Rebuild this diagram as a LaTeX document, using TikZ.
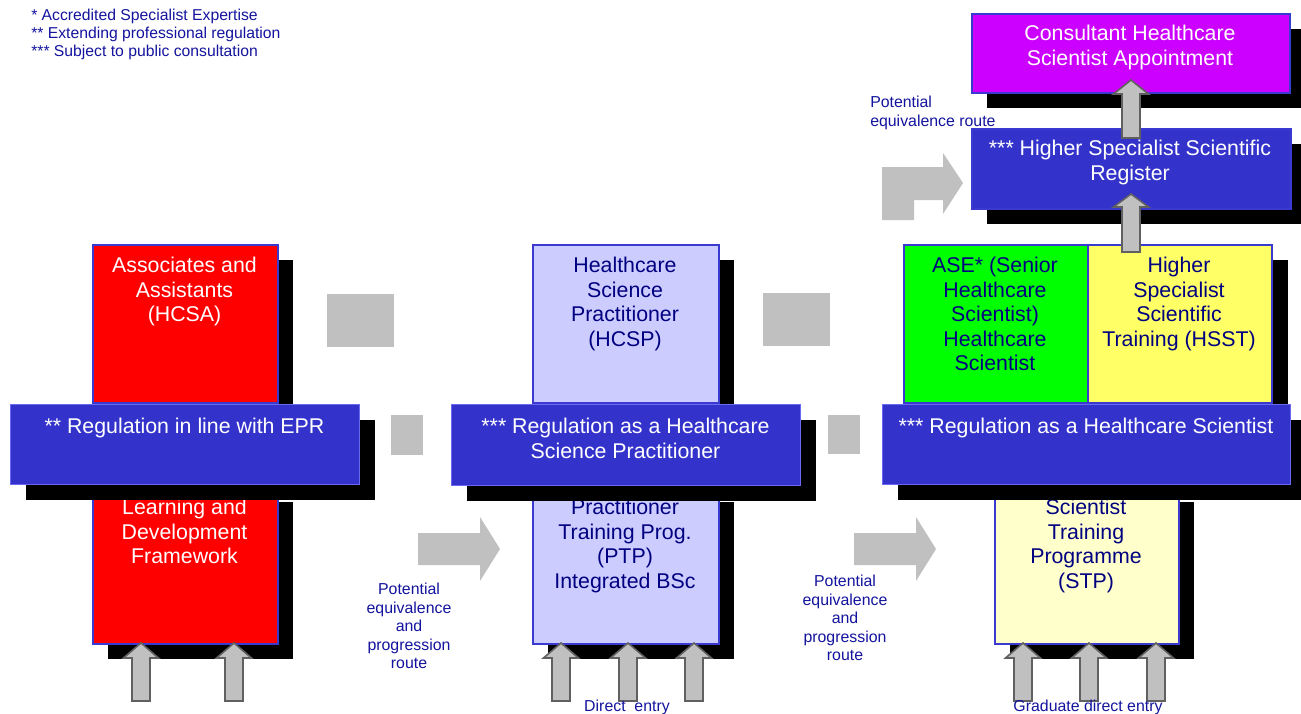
\documentclass[tikz,border=0pt]{standalone}
\usepackage{fontspec}
\setmainfont{Liberation Sans}
\definecolor{bandblue}{HTML}{3333CC}
\definecolor{edgeblue}{HTML}{3A3AD0}
\definecolor{bandedge}{HTML}{6A6AF0}
\definecolor{lav}{HTML}{CCCCFF}
\definecolor{navy}{HTML}{000080}
\definecolor{labblue}{HTML}{14149E}
\definecolor{blockgray}{HTML}{C0C0C0}
\definecolor{arrowedge}{HTML}{606060}
\definecolor{purp}{HTML}{CC00FF}
\definecolor{grn}{HTML}{00FF00}
\definecolor{yel}{HTML}{FFFF66}
\definecolor{paley}{HTML}{FFFFCC}
% name, style, x1, y1, x2, y2  (pixel coordinates, y downwards)
\newcommand\shbox[6]{%
  \fill[black] ({#3+16},{#4+16}) rectangle ({#5+16},{#6+16});
  \node[#2, anchor=north west, minimum width={(#5-#3)*0.75pt}, minimum height={(#6-#4)*0.75pt}] (#1) at (#3,#4) {};
}
\newcommand\plainbox[6]{%
  \node[#2, anchor=north west, minimum width={(#5-#3)*0.75pt}, minimum height={(#6-#4)*0.75pt}] (#1) at (#3,#4) {};
}
% center x, tip y, head base y, bottom y
\newcommand\uparrw[4]{%
  \draw[uparr] ({#1-9},#4) -- ({#1-9},#3) -- ({#1-17.5},#3) -- (#1,#2) -- ({#1+17.5},#3) -- ({#1+9},#3) -- ({#1+9},#4) -- cycle;
}
\begin{document}
\begin{tikzpicture}[x=0.75pt,y=-0.75pt,
  box/.style={draw=edgeblue, line width=1.5pt, inner sep=0pt},
  band/.style={draw=bandedge, line width=0.75pt, fill=bandblue, inner sep=0pt},
  btext/.style={font=\fontsize{16}{18.4}\selectfont, align=center, anchor=base, inner sep=0pt},
  lab/.style={font=\fontsize{11.9}{13.9}\selectfont, text=labblue, align=center, anchor=base, inner sep=0pt},
  legend/.style={font=\fontsize{11.8}{13.5}\selectfont, text=labblue, anchor=base west, inner sep=0pt},
  uparr/.style={fill=blockgray, draw=arrowedge, line width=1.2pt, line join=miter},
  blk/.style={fill=blockgray}]
\useasboundingbox (0,0) rectangle (1301,713);
\fill[white] (0,0) rectangle (1301,713);

% legend
\node[legend] (leg1) at (31,20.6) {* Accredited Specialist Expertise};
\node[legend] (leg2) at (31,38.6) {** Extending professional regulation};
\node[legend] (leg3) at (31,56.6) {*** Subject to public consultation};

% ---------- left column ----------
\shbox{hcsa}{box, fill=red}{92}{244}{277}{402}
\node[btext, text=white] (hcsaT) at (184.5,321.7) {Associates and\\Assistants\\(HCSA)};
\shbox{ldf}{box, fill=red}{92}{486}{277}{643}
\node[btext, text=white] (ldfT) at (184.5,563.7) {Learning and\\Development\\Framework};
\shbox{bandA}{band}{10}{404}{359}{484}
\node[btext, text=white] (bandAT) at (184.5,433.6) {** Regulation in line with EPR};

% connectors left -> middle
\fill[blk] (327,294) rectangle (394,347);
\fill[blk] (391,415) rectangle (423,455);
\fill[blk] (418,533) -- (480,533) -- (480,517) -- (500,549) -- (480,581) -- (480,565) -- (418,565) -- cycle;
\node[lab] (labA) at (409,668.7) {Potential\\equivalence\\and\\progression\\route};

% ---------- middle column ----------
\shbox{hcsp}{box, fill=lav}{532}{244}{718}{402}
\node[btext, text=navy] (hcspT) at (625,346.2) {Healthcare\\Science\\Practitioner\\(HCSP)};
\shbox{ptp}{box, fill=lav}{532}{486}{718}{643}
\node[btext, text=navy] (ptpT) at (625,588.2) {Practitioner\\Training Prog.\\(PTP)\\Integrated BSc};
\shbox{bandB}{band}{451}{404}{800}{485}
\node[btext, text=white] (bandBT) at (625.5,458.1) {*** Regulation as a Healthcare\\Science Practitioner};

% connectors middle -> right
\fill[blk] (763,293) rectangle (830,346);
\fill[blk] (828,415) rectangle (860,454);
\fill[blk] (854,533) -- (916,533) -- (916,517) -- (936,549) -- (916,581) -- (916,565) -- (854,565) -- cycle;
\node[lab] (labB) at (845,660.7) {Potential\\equivalence\\and\\progression\\route};

% ---------- right column ----------
\shbox{cons}{box, fill=purp}{971}{13}{1289}{92}
\node[btext, text=white] (consT) at (1130,65.1) {Consultant Healthcare\\Scientist Appointment};
\shbox{reg}{box, fill=bandblue}{971}{128}{1290}{208}
\node[btext, text=white] (regT) at (1130,180.1) {*** Higher Specialist Scientific\\Register};

\fill[black] (919,260) rectangle (1288,418);
\plainbox{ase}{box, fill=grn}{903}{244}{1087}{402}
\plainbox{hsst}{box, fill=yel}{1087}{244}{1271}{402}
\node[btext, text=navy] (aseT) at (995,370.7) {ASE* (Senior\\Healthcare\\Scientist)\\Healthcare\\Scientist};
\node[btext, text=navy] (hsstT) at (1179,346.2) {Higher\\Specialist\\Scientific\\Training (HSST)};

\shbox{stp}{box, fill=paley}{994}{486}{1178}{643}
\node[btext, text=navy] (stpT) at (1086,588.2) {Scientist\\Training\\Programme\\(STP)};
\shbox{bandC}{band}{882}{404}{1290}{484}
\node[btext, text=white] (bandCT) at (1086,433.6) {*** Regulation as a Healthcare Scientist};

% vertical arrows in right column
\uparrw{1131}{80}{94}{138}
\uparrw{1131}{194}{207}{252}

% bent equivalence arrow into the register
\fill[blk] (882,167) -- (943,167) -- (943,153) -- (963,183) -- (943,214) -- (943,200) -- (914,200) -- (914,220) -- (882,220) -- cycle;
\node[lab, align=left, anchor=base west] (labC) at (870,126.1) {Potential\\equivalence route};

% entry arrows at the bottom
\uparrw{141}{643}{658}{701}
\uparrw{234}{643}{658}{701}
\uparrw{561}{643}{658}{701}
\uparrw{628}{643}{658}{701}
\uparrw{694}{643}{658}{701}
\uparrw{1023}{643}{658}{701}
\uparrw{1089}{643}{658}{701}
\uparrw{1156}{643}{658}{701}
\node[lab] (direct) at (627,711.5) {Direct~ entry};
\node[lab] (graduate) at (1088,711.5) {Graduate direct entry};
\end{tikzpicture}
\end{document}
